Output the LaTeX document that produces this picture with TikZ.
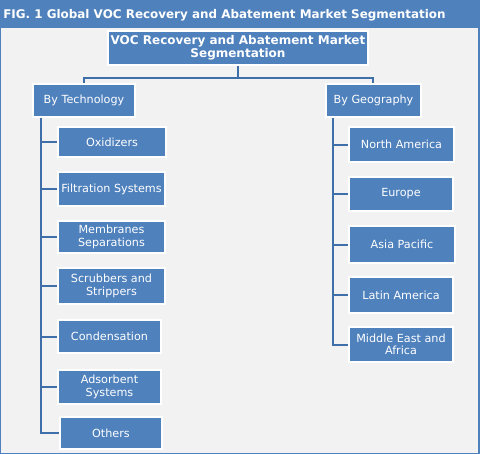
\documentclass[tikz,border=0pt]{standalone}
\usepackage{fontspec}
\setmainfont{DejaVu Sans}
\usetikzlibrary{calc}
\definecolor{bblue}{HTML}{4F81BD}
\definecolor{lblue}{HTML}{3F6FA8}
\definecolor{panel}{HTML}{F2F2F2}
\begin{document}
\begin{tikzpicture}[x=0.75pt,y=-0.75pt,
  box/.style={draw=white,line width=1.5pt,fill=bblue,text=white,align=center,inner sep=0pt,font=\fontsize{8.4pt}{9.4pt}\selectfont},
  conn/.style={draw=lblue,line width=1.5pt}]
\useasboundingbox (0,0) rectangle (480,454);
\fill[bblue] (0,0) rectangle (480,454);
\fill[panel] (1.5,28) rectangle (478.5,452.5);
\node[anchor=west,text=white,font=\bfseries\fontsize{8.95pt}{11pt}\selectfont,inner sep=0pt] (title) at (3,15) {FIG. 1 Global VOC Recovery and Abatement Market Segmentation};
% top
\node[box,minimum width=195pt,minimum height=25.5pt,font=\bfseries\fontsize{9pt}{9.8pt}\selectfont] (top) at (238,48) {VOC Recovery and Abatement Market\\Segmentation};
\node[box,minimum width=76.5pt,minimum height=24.75pt] (tech) at (84,100.5) {By Technology};
\node[box,minimum width=71.25pt,minimum height=24.75pt] (geo) at (373.5,100.5) {By Geography};
% left children
\node[box,minimum width=81pt,minimum height=22.5pt] (ox) at (112,142) {Oxidizers};
\node[box,minimum width=80.25pt,minimum height=25.5pt] (fil) at (111.5,189) {Filtration Systems};
\node[box,minimum width=80.25pt,minimum height=24pt] (mem) at (111.5,237) {Membranes\\Separations};
\node[box,minimum width=80.25pt,minimum height=27pt] (scr) at (111.5,286) {Scrubbers and\\Strippers};
\node[box,minimum width=77.25pt,minimum height=24.75pt] (con) at (109.5,336.5) {Condensation};
\node[box,minimum width=77.25pt,minimum height=25.5pt] (ads) at (109.5,387) {Adsorbent\\Systems};
\node[box,minimum width=76.5pt,minimum height=24pt] (oth) at (111,433) {Others};
% right children
\node[box,minimum width=78.75pt,minimum height=26.25pt] (na) at (401.5,144.5) {North America};
\node[box,minimum width=78pt,minimum height=25.5pt] (eu) at (401,194) {Europe};
\node[box,minimum width=79.5pt,minimum height=27.75pt] (ap) at (402,244.5) {Asia Pacific};
\node[box,minimum width=78pt,minimum height=27pt] (la) at (401,295) {Latin America};
\node[box,minimum width=78pt,minimum height=26.25pt] (mea) at (401,344.5) {Middle East and\\Africa};
% connectors
\coordinate (mid) at ($(top.south)+(0,12)$);
\draw[conn] (top.south) -- (mid);
\draw[conn] (tech.north) |- (mid) -| (geo.north);
\coordinate (lt) at ($(tech.south west)+(9,0)$);
\draw[conn] (lt) |- (oth.west);
\foreach \n in {ox,fil,mem,scr,con,ads} \draw[conn] (\n.west) -- (\n.west -| lt);
\coordinate (rt) at ($(geo.south west)+(8,0)$);
\draw[conn] (rt) |- (mea.west);
\foreach \n in {na,eu,ap,la} \draw[conn] (\n.west) -- (\n.west -| rt);
\end{tikzpicture}
\end{document}
